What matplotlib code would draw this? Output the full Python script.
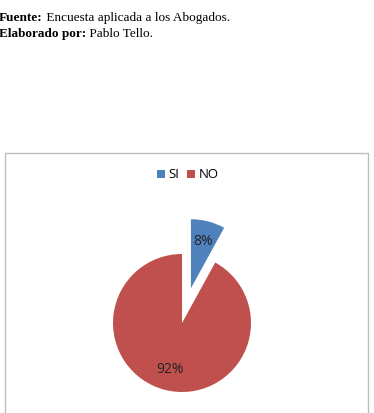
import matplotlib
matplotlib.use("Agg")
import matplotlib.pyplot as plt
from matplotlib.patches import Rectangle

categories = ["SI", "NO"]
values = [8, 92]
colors = ["#4F81BD", "#C0504D"]
explode_frac = [0.52, 0]

W, H = 374, 413
R = 69
fig = plt.figure(figsize=(W / 100, H / 100), dpi=100)
ax = fig.add_axes([0, 0, 1, 1])

# Source text
serif = ["Liberation Serif", "DejaVu Serif"]
t1 = ax.text(-1, H - 21, "Fuente:", fontsize=9.5, fontweight="bold", family=serif, va="baseline")
ax.annotate(" Encuesta aplicada a los Abogados.", xy=(1, 0), xycoords=t1,
            fontsize=9.5, family=serif, va="bottom")
t2 = ax.text(-1, H - 37, "Elaborado por:", fontsize=9.5, fontweight="bold", family=serif, va="baseline")
ax.annotate(" Pablo Tello.", xy=(1, 0), xycoords=t2,
            fontsize=9.5, family=serif, va="bottom")

# Chart box
ax.add_patch(Rectangle((5, -5), 363, H - 153 + 5, fill=False, edgecolor="#BDBDBD", linewidth=1))

wedges, texts, autotexts = ax.pie(values, colors=colors, explode=[e * R for e in explode_frac],
                                  startangle=90, counterclock=False, center=(182, H - 323), radius=R,
                                  autopct="%1.0f%%", pctdistance=0.7, frame=True,
                                  textprops=dict(fontsize=10, color="#222222",
                                                 family=["Open Sans", "DejaVu Sans"]))
ax.set_xlim(0, W)
ax.set_ylim(0, H)
ax.set_aspect("auto")
ax.axis("off")

ax.legend(wedges, categories, loc="center", bbox_to_anchor=(188, H - 175),
          bbox_transform=ax.transData, ncol=2, frameon=False,
          handlelength=0.6, handleheight=0.6, columnspacing=0.6, handletextpad=0.25,
          prop=dict(size=9.5, family=["Open Sans", "DejaVu Sans"]))

fig.savefig("out.png", dpi=100, facecolor="white")
